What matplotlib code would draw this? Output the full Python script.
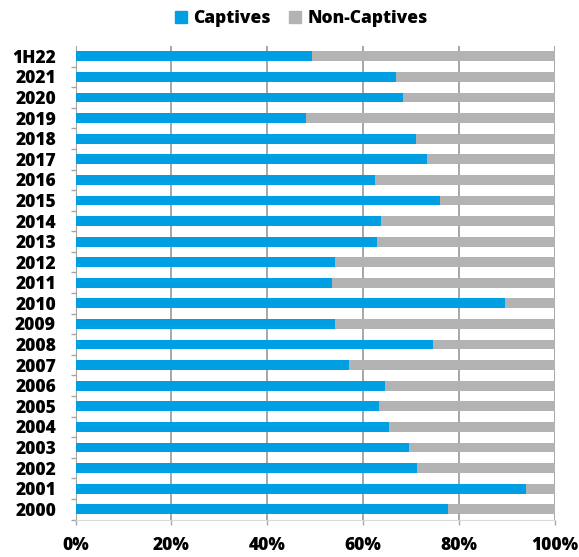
import matplotlib.pyplot as plt
from matplotlib.lines import Line2D

# data (share of captives)
years = ['2000', '2001', '2002', '2003', '2004', '2005', '2006', '2007', '2008',
         '2009', '2010', '2011', '2012', '2013', '2014', '2015', '2016', '2017',
         '2018', '2019', '2020', '2021', '1H22']
captives = [0.778, 0.940, 0.712, 0.696, 0.654, 0.634, 0.645, 0.570, 0.746,
            0.541, 0.896, 0.536, 0.542, 0.629, 0.638, 0.760, 0.624, 0.733,
            0.711, 0.481, 0.684, 0.668, 0.494]
non_captives = [1 - c for c in captives]

blue = '#009FE3'
grey = '#B3B3B3'

plt.rcParams['font.family'] = ['Open Sans', 'DejaVu Sans']
plt.rcParams['font.weight'] = 'heavy'

fig = plt.figure(figsize=(5.79, 5.57), dpi=100)
ax = fig.add_axes([0.1304, 0.0673, 0.828, 0.85])

pos = list(range(len(years)))
ax.barh(pos, captives, height=0.48, color=blue, zorder=3)
ax.barh(pos, non_captives, left=captives, height=0.48, color=grey, zorder=3)

ax.set_xlim(0, 1)
ax.set_ylim(-0.5, len(years) - 0.5)
ax.set_xticks([0, 0.2, 0.4, 0.6, 0.8, 1.0])
ax.set_xticklabels(['0%', '20%', '40%', '60%', '80%', '100%'])
ax.set_yticks(pos)
ax.set_yticklabels(years)
ax.set_yticks([p + 0.5 for p in pos[:-1]] + [-0.5], minor=True)
ax.tick_params(axis='y', which='major', length=0, pad=14, labelsize=12.5)
ax.tick_params(axis='y', which='minor', length=3.5, color='#A6A6A6', width=1)
ax.tick_params(axis='x', length=3.5, color='#A6A6A6', width=1, pad=9, labelsize=12.5)

ax.grid(axis='x', color='#A6A6A6', linewidth=1.4, zorder=0)
for s in ['top', 'right']:
    ax.spines[s].set_visible(False)
ax.spines['left'].set_color('#A6A6A6')
ax.spines['bottom'].set_color('#D9D9D9')

handles = [Line2D([], [], marker='s', linestyle='', color=blue, markersize=8),
           Line2D([], [], marker='s', linestyle='', color=grey, markersize=8)]
fig.legend(handles, ['Captives', 'Non-Captives'], loc='upper center',
           bbox_to_anchor=(0.52, 1.01), ncol=2, frameon=False, fontsize=12.5,
           handlelength=0.8, handletextpad=0.3, columnspacing=1.0)

fig.savefig('out.png', dpi=100)
